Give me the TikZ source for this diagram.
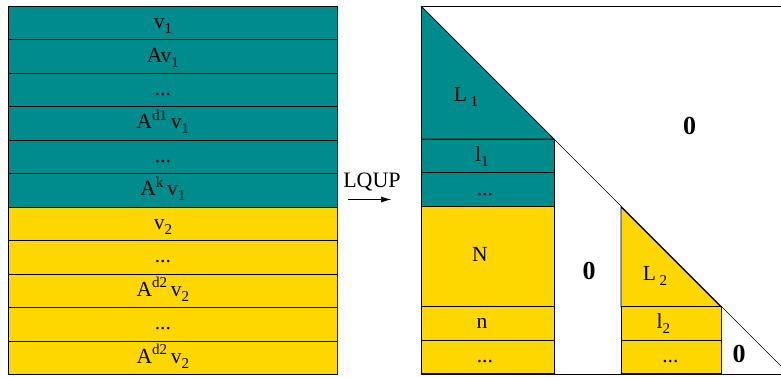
\documentclass[tikz,border=0pt]{standalone}
\usepackage{fontspec}
\setmainfont{Liberation Serif}
\usetikzlibrary{arrows.meta}
\definecolor{tealrow}{RGB}{0,140,140}
\definecolor{goldrow}{RGB}{255,215,0}
\newcommand{\lo}[1]{\raisebox{-5pt}{\fontsize{15}{15}\selectfont #1}}
\newcommand{\hi}[1]{\raisebox{8.5pt}{\fontsize{15}{15}\selectfont #1}}

\begin{document}
\begin{tikzpicture}[x=1pt,y=-1pt,line width=0.8pt,
    every node/.style={font=\fontsize{21.5}{22}\selectfont},
    vrow/.style={draw,anchor=north west,inner sep=0pt,minimum width=329pt,minimum height=33.45pt},
    brow/.style={draw,anchor=north west,inner sep=0pt,minimum height=33.45pt},
    tag/.style={anchor=base,inner sep=0pt},
    zero/.style={font=\fontsize{26}{26}\selectfont\bfseries}]
  \useasboundingbox (0,0) rectangle (781,376);

  %%%%% left: Krylov rows %%%%%
  \foreach \rc/\rt [count=\i] in {tealrow/{v\lo{1}}, tealrow/{Av\lo{1}}, tealrow/{...}, tealrow/{A\hi{d1}\,v\lo{1}},
      tealrow/{...}, tealrow/{A\hi{k}\,v\lo{1}}, goldrow/{v\lo{2}}, goldrow/{...}, goldrow/{A\hi{d2}\,v\lo{2}},
      goldrow/{...}, goldrow/{A\hi{d2}\,v\lo{2}}}
  {
    \node[vrow,fill=\rc] (r\i) at (8,{6+(\i-1)*33.45}) {};
    \node[tag] (t\i) at ([xshift=-10pt,yshift=-5.5pt]r\i.center) {\rt};
  }

  %%%%% arrow %%%%%
  \coordinate (a0) at (348,199.5);
  \coordinate (a1) at (391,199.5);
  \draw[-{Latex[length=10pt,width=6pt]},line width=0.6pt] (a0) -- (a1);
  \node[tag,font=\fontsize{22}{22}\selectfont] (lqup) at (372,187) {LQUP};

  %%%%% right: L matrix %%%%%
  \fill[tealrow] (421,6) -- (554,139) -- (421,139) -- cycle;
  \draw (421,6) -- (554,139) -- (421,139);
  \node[tag] (L1) at (466,101) {L\,\lo{1}};

  \node[brow,fill=tealrow,minimum width=133pt] (l1) at (421,139) {};
  \node[brow,fill=tealrow,minimum width=133pt] (d1) at (421,172.45) {};
  \node[brow,fill=goldrow,minimum width=133pt,minimum height=100.35pt] (N) at (421,205.9) {};
  \node[brow,fill=goldrow,minimum width=133pt] (n) at (421,306.25) {};
  \node[brow,fill=goldrow,minimum width=133pt] (d2) at (421,339.7) {};
  \node[tag] at ([xshift=-6pt,yshift=-5.5pt]l1.center) {l\lo{1}};
  \node[tag] at ([xshift=-3pt,yshift=-5.5pt]d1.center) {...};
  \node[tag] at ([xshift=-8pt,yshift=-5.5pt]N.center) {N};
  \node[tag] at ([xshift=-6pt,yshift=-5.5pt]n.center) {n};
  \node[tag] at ([xshift=-3pt,yshift=-5.5pt]d2.center) {...};

  \fill[goldrow] (621,207) -- (721,307) -- (621,307) -- cycle;
  \draw (621,207) -- (721,307) -- (621,307) -- cycle;
  \node[tag] (L2) at (655,280) {L\,\lo{2}};
  \node[brow,fill=goldrow,minimum width=100pt] (l2) at (621,306.25) {};
  \node[brow,fill=goldrow,minimum width=100pt] (d3) at (621,339.7) {};
  \node[tag] at ([xshift=-8pt,yshift=-5.5pt]l2.center) {l\lo{2}};
  \node[tag] at ([xshift=-1pt,yshift=-5.5pt]d3.center) {...};

  % frame and diagonal
  \draw (781,6) -- (421,6) -- (421,374) -- (781,374);
  \draw[line width=0.6pt] (554,139) -- (781,366);

  \node[zero] (z1) at (689.5,126) {0};
  \node[zero] (z2) at (589,271) {0};
  \node[zero] (z3) at (739,354) {0};
\end{tikzpicture}
\end{document}
